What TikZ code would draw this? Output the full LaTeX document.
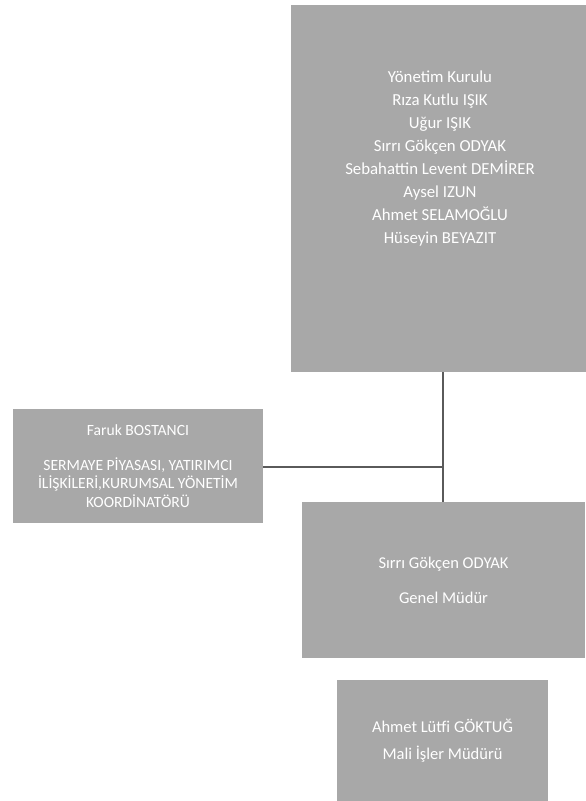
\documentclass[tikz,border=0pt]{standalone}
\usepackage{fontspec}
\setmainfont{Carlito}
\usepackage{tikz}

\begin{document}
\begin{tikzpicture}[x=1pt, y=-1pt,
  kutu/.style={fill=boxgray, draw=none, inner sep=0pt, text=white, align=center,
    font=\fontsize{16.5}{20}\selectfont},
  hat/.style={draw=linegray, line width=1.6pt}]
\definecolor{boxgray}{HTML}{A8A8A8}
\definecolor{linegray}{HTML}{5A5A5A}
\useasboundingbox (0,0) rectangle (586,801);

\draw (438.5,188.5) node (kurul) [kutu, minimum width=295pt, minimum height=367pt] {};
\draw (440,159)     node (kurulyazi) [kutu, fill=none, font=\fontsize{16.8}{23}\selectfont]
  {Yönetim Kurulu\\ Rıza Kutlu IŞIK\\ Uğur IŞIK\\ Sırrı Gökçen ODYAK\\
   Sebahattin Levent DEMİRER\\ Aysel IZUN\\ Ahmet SELAMOĞLU\\ Hüseyin BEYAZIT};

\draw (138,466)   node (koord) [kutu, minimum width=250pt, minimum height=114pt,
    font=\fontsize{15.6}{18.5}\selectfont]
  {Faruk BOSTANCI\\[16.5pt] SERMAYE PİYASASI, YATIRIMCI\\ İLİŞKİLERİ,KURUMSAL YÖNETİM\\ KOORDİNATÖRÜ};

\draw (443.5,580) node (genel) [kutu, minimum width=283pt, minimum height=156pt]
  {Sırrı Gökçen ODYAK\\[15pt] Genel Müdür};

\draw (442.5,740.5) node (mali) [kutu, minimum width=211pt, minimum height=121pt]
  {Ahmet Lütfi GÖKTUĞ\\[7pt] Mali İşler Müdürü};

\coordinate (kavsak) at (443,467);
\draw [hat] (kurul.south -| kavsak) -- (genel.north -| kavsak);
\draw [hat] (koord.east |- kavsak) -- (kavsak);
\end{tikzpicture}
\end{document}
